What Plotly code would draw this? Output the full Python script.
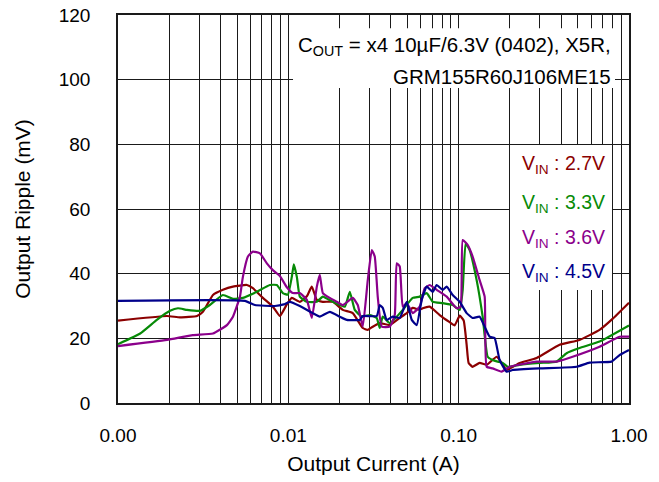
import plotly.graph_objects as go

# ---------------- data ----------------
i_27 = [0.001, 0.00194, 0.00231, 0.00291, 0.00315, 0.00361, 0.00413, 0.00473, 0.00571, 0.00619,
        0.00709, 0.00811, 0.00892, 0.0098, 0.01048, 0.01168, 0.01284, 0.01373, 0.0147, 0.01594,
        0.01824, 0.02087, 0.02389, 0.02735, 0.02927, 0.03131, 0.03441, 0.03939, 0.04508, 0.04955,
        0.05374, 0.05906, 0.0615, 0.0676, 0.07737, 0.08857, 0.0947, 0.1014, 0.107, 0.1114,
        0.1144, 0.1208, 0.1328, 0.146, 0.1671, 0.1812, 0.1912, 0.228, 0.2868, 0.3914,
        0.5126, 0.6715, 0.8004, 1.0]
v_27 = [25.5, 26.9, 26.5, 26.9, 28.2, 33.4, 35, 36, 36.5, 35.5,
        32.5, 29.8, 26.9, 30.5, 32.5, 31.3, 33, 36, 31.9, 31.3,
        31.3, 28.8, 27.8, 23.2, 22.6, 23.6, 24.7, 24.1, 26.3, 27.8,
        29.4, 28.8, 29.3, 29.8, 27.2, 25, 24, 27, 25.5, 18,
        12.4, 11.2, 12.4, 11.8, 14.3, 12, 10.2, 12.4, 13.9, 18,
        19.5, 22.6, 26, 31]

i_33 = [0.001, 0.00135, 0.00169, 0.00202, 0.00225, 0.00254, 0.00303, 0.00346, 0.00413, 0.00473,
        0.00541, 0.00654, 0.00779, 0.00856, 0.00928, 0.00993, 0.01048, 0.01077, 0.01122, 0.01168,
        0.01284, 0.0147, 0.01594, 0.01824, 0.02145, 0.02295, 0.02455, 0.02699, 0.03006, 0.03304,
        0.03441, 0.03584, 0.03939, 0.04329, 0.04695, 0.05374, 0.05906, 0.06491, 0.0704, 0.08057,
        0.09222, 0.1014, 0.1056, 0.1099, 0.116, 0.1275, 0.1383, 0.148, 0.1583, 0.1693,
        0.1812, 0.1939, 0.228, 0.2987, 0.3756, 0.43, 0.5126, 0.6715, 1.0]
v_33 = [18.2, 21.5, 25.7, 28.5, 29.3, 28.8, 28.5, 30.3, 33.4, 32.2,
        32.5, 34.4, 36.5, 36.5, 34, 33.5, 39, 42.9, 39, 32.9,
        31.3, 31.3, 32.9, 31.3, 29.8, 34.4, 28.8, 26.7, 27.2, 26.3,
        23.2, 26.7, 24.7, 26.7, 28.8, 32.5, 32.9, 34, 31.3, 30.9,
        30.3, 28.8, 35, 49.4, 47.3, 38, 26.7, 14.3, 13.3, 12.8,
        12.4, 11.2, 11.8, 12.4, 12.8, 15.4, 17, 19, 24]

i_36 = [0.001, 0.00194, 0.00275, 0.00361, 0.00436, 0.00473, 0.0052, 0.00541, 0.00579, 0.00619,
        0.00681, 0.00748, 0.00811, 0.00892, 0.0098, 0.01063, 0.01168, 0.01284, 0.01373, 0.0147,
        0.0153, 0.01594, 0.01751, 0.01925, 0.02087, 0.02389, 0.02556, 0.02735, 0.02927, 0.03089,
        0.03216, 0.03349, 0.03535, 0.03939, 0.04214, 0.04329, 0.04508, 0.04695, 0.04955, 0.05374,
        0.05906, 0.06318, 0.0676, 0.0743, 0.08505, 0.09734, 0.1027, 0.1056, 0.1129, 0.1208,
        0.1328, 0.1421, 0.146, 0.1583, 0.1787, 0.1992, 0.2868, 0.3756, 0.4664, 0.6715,
        0.8799, 1.0]
v_36 = [17.6, 19.5, 21, 21.5, 24.1, 26.7, 32.9, 39, 45.3, 46.8,
        46.3, 43.2, 41.1, 39.3, 35.8, 34, 34, 31.9, 26.3, 36,
        39.6, 34, 32.5, 31.3, 30.3, 32.5, 30.3, 23.6, 38, 47.3,
        45.3, 32.9, 23.6, 23.6, 27.2, 43.2, 42.2, 29.8, 30.9, 27.8,
        29.8, 35.5, 36.5, 35, 32.9, 29.3, 29.8, 50.4, 48.9, 45.3,
        38, 32.9, 11.2, 10.7, 9.7, 11.2, 12.8, 12.8, 14.3, 17.4,
        20.5, 20.5]

i_45 = [0.001, 0.00556, 0.00636, 0.00833, 0.00941, 0.0102, 0.01168, 0.01392, 0.0153, 0.01751,
        0.02005, 0.02203, 0.02627, 0.02735, 0.03304, 0.03441, 0.03584, 0.03782, 0.04102, 0.04508,
        0.04955, 0.05302, 0.05672, 0.06067, 0.06491, 0.0704, 0.0743, 0.08057, 0.08505, 0.09222,
        0.1014, 0.1114, 0.1208, 0.1328, 0.1421, 0.152, 0.1626, 0.174, 0.1912, 0.2074,
        0.2987, 0.4922, 0.5866, 0.7896, 0.8799, 1.0]
v_45 = [31.6, 31.6, 30.3, 30, 30.5, 31.3, 30, 27.8, 26.7, 28.2,
        26.7, 25.7, 25.7, 26.9, 26.9, 30.3, 29.4, 25.7, 26.7, 26.3,
        31.3, 25.7, 24.1, 31.9, 36, 34.4, 36.5, 35, 36, 33.4,
        31.3, 27.8, 26.3, 26.7, 23.6, 20.5, 20.1, 13.3, 9.7, 10.2,
        10.7, 11.2, 12.5, 12.8, 14.8, 16.4]

series_names = ["V<sub>IN</sub> : 2.7V", "V<sub>IN</sub> : 3.3V",
                "V<sub>IN</sub> : 3.6V", "V<sub>IN</sub> : 4.5V"]
colors = ["#8B0000", "#078A07", "#8B008B", "#00008B"]

x_tickvals = [0.001, 0.01, 0.1, 1.0]
x_ticktext = ["0.00", "0.01", "0.10", "1.00"]
y_tickvals = [0, 20, 40, 60, 80, 100, 120]
minor_vals = [m * d for d in (0.001, 0.01, 0.1) for m in range(2, 10)]

FONT = "Liberation Sans, Arial, sans-serif"

fig = go.Figure()
for xs, ys, nm, c in zip([i_27, i_33, i_36, i_45], [v_27, v_33, v_36, v_45], series_names, colors):
    fig.add_trace(go.Scatter(x=xs, y=ys, mode="lines", name=nm,
                             line=dict(color=c, width=2.2, shape="spline", smoothing=0.4),
                             showlegend=False))

grid_c = "#1a1a1a"
fig.update_layout(
    width=659, height=482,
    margin=dict(l=118, r=30, t=15, b=79, autoexpand=False),
    paper_bgcolor="white", plot_bgcolor="white",
    font=dict(family=FONT, color="black", size=19),
    xaxis=dict(type="log", range=[-3, 0], tickmode="array", tickvals=x_tickvals,
               ticktext=x_ticktext, showgrid=True, gridcolor=grid_c, gridwidth=1.3,
               minor=dict(tickmode="array", tickvals=minor_vals, showgrid=True,
                          gridcolor=grid_c, gridwidth=1.3),
               showline=True, linecolor=grid_c, linewidth=1.5, mirror=True, automargin=False,
               ticks="", zeroline=False, tickfont=dict(size=19), ticklabelstandoff=14,
               title=dict(text="Output Current (A)", font=dict(size=21), standoff=12)),
    yaxis=dict(range=[0, 120], tickmode="array", tickvals=y_tickvals,
               showgrid=True, gridcolor=grid_c, gridwidth=1.3,
               showline=True, linecolor=grid_c, linewidth=1.5, mirror=True, automargin=False,
               ticks="", zeroline=False, tickfont=dict(size=19), ticklabelstandoff=22,
               title=dict(text="Output Ripple (mV)", font=dict(size=21), standoff=22)),
)

# white boxes behind the text blocks
fig.add_shape(type="rect", xref="paper", yref="paper", x0=0.3425, x1=0.9726,
              y0=0.812, y1=0.966, fillcolor="white", line=dict(width=0), layer="above")
fig.add_shape(type="rect", xref="paper", yref="paper", x0=0.7671, x1=0.9667,
              y0=0.291, y1=0.665, fillcolor="white", line=dict(width=0), layer="above")

fig.add_annotation(xref="paper", yref="paper", x=0.9687, y=(403 - 46) / 388,
                   xanchor="right", yanchor="middle", showarrow=False,
                   text="C<sub>OUT</sub> = x4 10µF/6.3V (0402), X5R,",
                   font=dict(size=20.5, color="black"))
fig.add_annotation(xref="paper", yref="paper", x=0.9687, y=(403 - 76) / 388,
                   xanchor="right", yanchor="middle", showarrow=False,
                   text="GRM155R60J106ME15", font=dict(size=20.5, color="black"))

legend_y_px = [165, 203, 239, 272]
for nm, c, py in zip(series_names, colors, legend_y_px):
    fig.add_annotation(xref="paper", yref="paper", x=(607 - 118) / 511, y=(403 - py) / 388,
                       xanchor="right", yanchor="middle", showarrow=False,
                       text=nm, font=dict(size=19.5, color=c))

fig.write_html("out.html")
